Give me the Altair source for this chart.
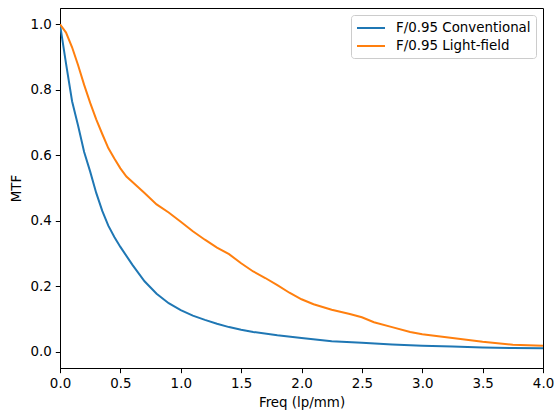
import altair as alt
import pandas as pd

series_names = ["F/0.95 Conventional", "F/0.95 Light-field"]
colors = ["#1f77b4", "#ff7f0e"]

freq_conv = [0, 0.05, 0.1, 0.15, 0.2, 0.25, 0.3, 0.35, 0.4, 0.45, 0.5, 0.6, 0.7, 0.8,
             0.9, 1.0, 1.1, 1.2, 1.3, 1.4, 1.5, 1.6, 1.8, 2.0, 2.25, 2.5, 2.75, 3.0,
             3.25, 3.5, 3.75, 4.0]
mtf_conv = [1.0, 0.88, 0.765, 0.69, 0.61, 0.55, 0.485, 0.43, 0.385, 0.35, 0.32, 0.265,
            0.215, 0.177, 0.148, 0.127, 0.11, 0.097, 0.085, 0.075, 0.067, 0.06, 0.05,
            0.042, 0.032, 0.027, 0.022, 0.018, 0.016, 0.013, 0.011, 0.010]

freq_lf = [0, 0.05, 0.1, 0.15, 0.2, 0.25, 0.3, 0.35, 0.4, 0.45, 0.5, 0.55, 0.6, 0.7,
           0.8, 0.9, 1.0, 1.1, 1.2, 1.3, 1.4, 1.5, 1.6, 1.7, 1.8, 1.9, 2.0, 2.1, 2.25,
           2.4, 2.5, 2.6, 2.75, 2.9, 3.0, 3.25, 3.5, 3.75, 4.0]
mtf_lf = [1.0, 0.975, 0.93, 0.875, 0.815, 0.76, 0.71, 0.665, 0.622, 0.59, 0.56, 0.535,
          0.518, 0.485, 0.45, 0.425, 0.397, 0.368, 0.342, 0.318, 0.298, 0.27, 0.245,
          0.225, 0.203, 0.18, 0.16, 0.145, 0.128, 0.115, 0.105, 0.09, 0.075, 0.06,
          0.053, 0.042, 0.03, 0.021, 0.018]

x_ticks = [0, 0.5, 1.0, 1.5, 2.0, 2.5, 3.0, 3.5, 4.0]
y_ticks = [0.0, 0.2, 0.4, 0.6, 0.8, 1.0]

rows = []
for f, m in zip(freq_conv, mtf_conv):
    rows.append({"freq": f, "mtf": m, "series": series_names[0]})
for f, m in zip(freq_lf, mtf_lf):
    rows.append({"freq": f, "mtf": m, "series": series_names[1]})
df = pd.DataFrame(rows)

FONT = "DejaVu Sans"
FS = 13.4

chart = alt.Chart(df).mark_line(strokeWidth=2, clip=True).encode(
    x=alt.X("freq:Q",
            scale=alt.Scale(domain=[0, 4], nice=False, zero=False),
            axis=alt.Axis(values=x_ticks, format=".1f", title="Freq (lp/mm)",
                          titlePadding=5, labelPadding=4, labelFlush=False,
                          labelOverlap=False)),
    y=alt.Y("mtf:Q",
            scale=alt.Scale(domain=[-0.05, 1.05], nice=False, zero=False),
            axis=alt.Axis(values=y_ticks, format=".1f", title="MTF",
                          titlePadding=7, labelPadding=4, labelFlush=False,
                          labelOverlap=False)),
    color=alt.Color("series:N",
                    scale=alt.Scale(domain=series_names, range=colors),
                    legend=alt.Legend(title=None, orient="top-right", offset=7,
                                      labelFont=FONT, labelFontSize=FS, labelColor="black",
                                      symbolType="M-2,0H2", symbolSize=196,
                                      symbolStrokeWidth=2, symbolOffset=7, labelOffset=17,
                                      padding=5, strokeColor="#cccccc", fillColor="white",
                                      cornerRadius=3, rowPadding=3)),
).properties(
    width=483, height=360,
    autosize=alt.AutoSizeParams(type="none"),
    padding={"left": 60, "top": 8, "right": 12, "bottom": 44},
).configure_axis(
    domainColor="black", domainWidth=1, tickColor="black", tickWidth=1, tickSize=4.7,
    labelFont=FONT, labelFontSize=FS, labelColor="black",
    titleFont=FONT, titleFontSize=FS, titleFontWeight="normal", titleColor="black",
    grid=False,
).configure_view(stroke="black", strokeWidth=1)

chart.save("out.html", embed_options={"renderer": "svg", "actions": False})
